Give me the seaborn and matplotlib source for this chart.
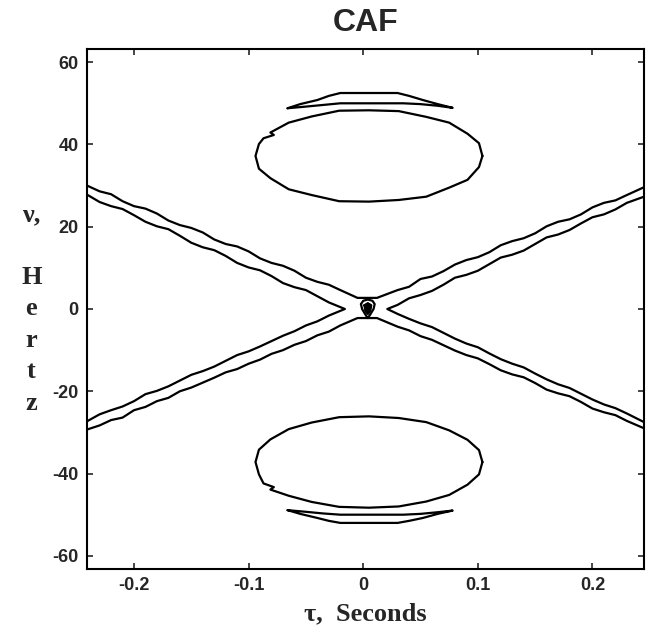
import matplotlib
matplotlib.use("Agg")
import matplotlib.pyplot as plt
import seaborn as sns

# Tick positions / labels
x_ticks = [-0.2, -0.1, 0, 0.1, 0.2]
x_tick_labels = ["-0.2", "-0.1", "0", "0.1", "0.2"]
y_ticks = [-60, -40, -20, 0, 20, 40, 60]
y_tick_labels = ["-60", "-40", "-20", "0", "20", "40", "60"]

# Contour lines of the CAF (tau in s, nu in Hz)
# upper outer line of the "X"
upper_outer_tau = [-0.241, -0.23, -0.22, -0.21, -0.20, -0.19, -0.18, -0.17, -0.16, -0.15, -0.14, -0.13, -0.12,
                   -0.11, -0.10, -0.09, -0.08, -0.07, -0.06, -0.05, -0.04, -0.03, -0.02, -0.005,
                   0.012, 0.03, 0.04, 0.05, 0.06, 0.07, 0.08, 0.09, 0.10, 0.11, 0.12, 0.13, 0.14, 0.15,
                   0.16, 0.17, 0.18, 0.19, 0.20, 0.21, 0.22, 0.23, 0.245]
upper_outer_nu = [30.0, 28.6, 27.9, 26.2, 25.0, 24.4, 23.2, 21.5, 20.4, 19.7, 18.6, 16.9, 15.8,
                  15.2, 14.0, 12.3, 11.2, 10.5, 9.3, 7.6, 6.6, 5.9, 4.6, 2.7,
                  2.7, 4.6, 5.4, 7.3, 7.9, 9.2, 10.8, 11.9, 12.6, 13.8, 15.5, 16.5, 17.2, 18.4,
                  20.1, 21.2, 21.8, 23.0, 24.7, 25.8, 26.4, 27.7, 29.6]
# lower outer line of the "X"
lower_outer_tau = [-0.241, -0.23, -0.22, -0.21, -0.20, -0.19, -0.18, -0.17, -0.16, -0.15, -0.14, -0.13, -0.12,
                   -0.11, -0.10, -0.09, -0.08, -0.07, -0.06, -0.05, -0.04, -0.03, -0.02, -0.005,
                   0.012, 0.03, 0.04, 0.05, 0.06, 0.07, 0.08, 0.09, 0.10, 0.11, 0.12, 0.13, 0.14, 0.15,
                   0.16, 0.17, 0.18, 0.19, 0.20, 0.21, 0.22, 0.23, 0.245]
lower_outer_nu = [-29.3, -28.3, -27.0, -26.4, -24.6, -23.8, -22.4, -21.6, -20.0, -19.1, -17.9, -16.7, -15.4,
                  -14.6, -13.3, -12.3, -10.9, -10.0, -8.7, -7.8, -6.4, -5.5, -4.0, -2.2,
                  -2.2, -4.3, -5.2, -6.6, -7.5, -8.8, -10.1, -11.2, -12.0, -13.4, -14.9, -15.9, -16.6, -18.0,
                  -19.6, -20.5, -21.2, -22.6, -24.2, -25.1, -25.8, -27.2, -29.0]
# inner "<" on the left
left_inner_tau = [-0.241, -0.23, -0.22, -0.21, -0.20, -0.19, -0.18, -0.17, -0.16, -0.15, -0.14, -0.13, -0.12,
                  -0.11, -0.10, -0.09, -0.08, -0.07, -0.06, -0.05, -0.04, -0.03, -0.016,
                  -0.03, -0.04, -0.05, -0.06, -0.07, -0.08, -0.09, -0.10, -0.11, -0.12, -0.13, -0.14,
                  -0.15, -0.16, -0.17, -0.18, -0.19, -0.20, -0.21, -0.22, -0.23, -0.241]
left_inner_nu = [27.8, 26.0, 25.0, 24.3, 22.8, 21.2, 20.1, 19.4, 17.8, 16.1, 15.0, 14.3, 12.9,
                 11.2, 10.1, 9.4, 8.0, 6.3, 5.3, 4.6, 3.1, 1.6, 0.0,
                 -1.6, -3.0, -4.0, -5.4, -6.5, -7.8, -9.1, -10.3, -11.2, -12.6, -14.0, -15.1,
                 -16.0, -17.4, -18.8, -19.9, -20.7, -22.4, -23.7, -24.6, -25.6, -27.3]
# inner ">" on the right
right_inner_tau = [0.245, 0.23, 0.22, 0.21, 0.20, 0.19, 0.18, 0.17, 0.16, 0.15, 0.14, 0.13, 0.12,
                   0.11, 0.10, 0.09, 0.08, 0.07, 0.06, 0.05, 0.04, 0.03, 0.021,
                   0.03, 0.04, 0.05, 0.06, 0.07, 0.08, 0.09, 0.10, 0.11, 0.12, 0.13, 0.14,
                   0.15, 0.16, 0.17, 0.18, 0.19, 0.20, 0.21, 0.22, 0.23, 0.245]
right_inner_nu = [27.3, 25.8, 24.2, 23.0, 22.3, 20.8, 19.2, 18.1, 17.4, 15.8, 14.2, 13.2, 12.5,
                  10.9, 9.3, 8.3, 7.6, 5.9, 4.4, 3.4, 2.6, 1.0, 0.0,
                  -1.2, -2.4, -3.5, -4.4, -5.8, -7.2, -8.4, -9.3, -10.8, -12.2, -13.3, -14.2,
                  -15.7, -17.1, -18.3, -19.2, -20.6, -22.0, -23.2, -24.1, -25.4, -27.5]

# upper ellipse
top_ell_tau = [0.104, 0.101, 0.091, 0.075, 0.055, 0.031, 0.005, -0.021, -0.045, -0.065, -0.081,
               -0.078, -0.087, -0.091, -0.094, -0.091, -0.081, -0.065, -0.045, -0.021, 0.005,
               0.031, 0.055, 0.075, 0.091, 0.101, 0.104]
top_ell_nu = [37.2, 40.3, 42.6, 45.3, 46.7, 48.1, 48.3, 48.2, 46.8, 45.3, 42.9,
              42.3, 41.5, 40.1, 37.2, 34.1, 31.8, 29.1, 27.7, 26.2, 26.1,
              26.5, 27.3, 29.5, 31.4, 34.5, 37.2]
# thin sliver above the upper ellipse
top_sliver_tau = [-0.066, -0.055, -0.040, -0.030, -0.020, 0.030, 0.040, 0.052, 0.065, 0.078,
                  0.065, 0.050, 0.035, -0.020, -0.035, -0.050, -0.066]
top_sliver_nu = [48.8, 49.8, 50.8, 51.8, 52.5, 52.5, 51.8, 50.8, 49.8, 48.9,
                 49.4, 49.8, 50.0, 50.0, 49.6, 49.2, 48.8]

# lower ellipse
bot_ell_tau = [0.104, 0.101, 0.091, 0.075, 0.055, 0.031, 0.005, -0.021, -0.045, -0.065, -0.081,
               -0.091, -0.094, -0.091, -0.087, -0.078, -0.081, -0.065, -0.045, -0.021, 0.005,
               0.031, 0.055, 0.075, 0.091, 0.101, 0.104]
bot_ell_nu = [-37.2, -34.3, -31.8, -29.5, -27.5, -26.5, -26.1, -26.3, -27.6, -29.2, -31.7,
              -34.2, -37.2, -40.2, -42.4, -43.3, -43.9, -45.4, -46.9, -48.1, -48.3,
              -48.0, -46.8, -45.2, -42.7, -40.2, -37.2]
# thin sliver below the lower ellipse
bot_sliver_tau = [-0.066, -0.050, -0.035, -0.020, 0.035, 0.050, 0.065, 0.078,
                  0.065, 0.052, 0.040, 0.030, -0.020, -0.030, -0.040, -0.055, -0.066]
bot_sliver_nu = [-48.9, -49.3, -49.7, -50.0, -50.0, -49.8, -49.4, -49.0,
                 -49.8, -50.8, -51.5, -52.0, -52.0, -51.5, -50.8, -49.8, -48.9]

# small peak at the origin
peak_out_tau = [-0.002, 0.000, 0.004, 0.008, 0.010, 0.009, 0.006, 0.004, 0.002, -0.001, -0.002]
peak_out_nu = [1.2, 2.0, 2.3, 2.0, 1.2, 0.0, -1.4, -2.2, -1.4, 0.0, 1.2]
peak_in_tau = [0.001, 0.004, 0.007, 0.006, 0.004, 0.002, 0.001]
peak_in_nu = [0.9, 1.4, 0.9, -0.5, -1.2, -0.5, 0.9]

contours = [
    (upper_outer_tau, upper_outer_nu),
    (lower_outer_tau, lower_outer_nu),
    (left_inner_tau, left_inner_nu),
    (right_inner_tau, right_inner_nu),
    (top_ell_tau, top_ell_nu),
    (top_sliver_tau, top_sliver_nu),
    (bot_ell_tau, bot_ell_nu),
    (bot_sliver_tau, bot_sliver_nu),
    (peak_out_tau, peak_out_nu),
    (peak_in_tau, peak_in_nu),
]

sns.set_style("ticks")
plt.rcParams["font.family"] = ["Liberation Sans", "DejaVu Sans"]

fig, ax = plt.subplots(figsize=(6.47, 6.43), dpi=100)
fig.subplots_adjust(left=0.1345, right=0.9954, bottom=0.1151, top=0.9238)

for tau, nu in contours:
    sns.lineplot(x=tau, y=nu, sort=False, estimator=None, color="black", linewidth=1.6, ax=ax)
ax.fill(peak_in_tau, peak_in_nu, color="black")

ax.set_xlim(-0.241, 0.245)
ax.set_ylim(-63.2, 63.2)
ax.set_xticks(x_ticks)
ax.set_xticklabels(x_tick_labels)
ax.set_yticks(y_ticks)
ax.set_yticklabels(y_tick_labels)
ax.tick_params(direction="in", top=True, right=True, length=4, width=1.2, labelsize=13, pad=6)
for lab in ax.get_xticklabels() + ax.get_yticklabels():
    lab.set_fontweight("bold")
for sp in ax.spines.values():
    sp.set_linewidth(1.5)
    sp.set_color("black")

ax.set_title("CAF", fontsize=23, fontweight="bold", pad=13)
ax.set_xlabel("τ,  Seconds", fontsize=19, fontweight="bold", family=["Liberation Serif", "DejaVu Serif"], labelpad=6)
ax.set_ylabel("ν,\n\nH\ne\nr\nt\nz", fontsize=19, fontweight="bold", family=["Liberation Serif", "DejaVu Serif"],
              rotation=0, va="center", ha="center", linespacing=1.47)
ax.yaxis.set_label_coords(-0.1, 0.5)

fig.savefig("out.png", dpi=100)
